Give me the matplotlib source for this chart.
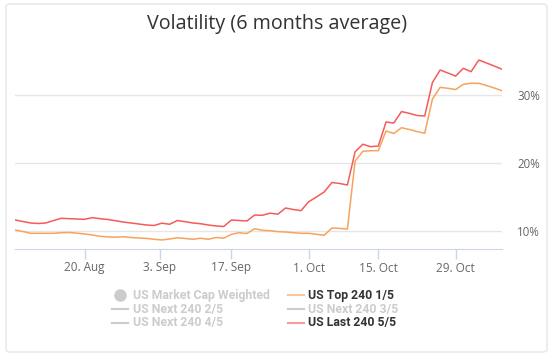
import matplotlib
matplotlib.use('Agg')
import matplotlib.pyplot as plt
from matplotlib.lines import Line2D
from matplotlib.patches import FancyBboxPatch
import numpy as np
import pandas as pd

plt.rcParams['font.family'] = ['Open Sans', 'DejaVu Sans']

# trading days shown on the chart (Labor Day and Columbus Day missing)
dates = pd.bdate_range('2018-08-07', '2018-11-06')
dates = dates[~dates.isin(pd.to_datetime(['2018-09-03', '2018-10-08']))]

# US Top 240 1/5, in %
top_240 = [10.15, 9.93, 9.66, 9.66, 9.66, 9.66, 9.75, 9.78, 9.68, 9.56,
           9.41, 9.22, 9.12, 9.09, 9.15, 9.04, 8.97, 8.91, 8.78, 8.68,
           8.82, 9.00, 8.90, 8.78, 8.93, 8.78, 9.04, 8.94, 9.51, 9.75,
           9.63, 10.34, 10.10, 10.04, 9.90, 9.85, 9.75, 9.66, 9.66, 9.51,
           9.37, 10.44, 10.37, 10.29, 20.29, 21.72, 21.81, 21.81, 24.71, 24.34,
           25.19, 24.93, 24.63, 24.37, 29.41, 31.13, 30.99, 30.81, 31.57, 31.74,
           31.72, 31.40, 31.03, 30.63]

# US Last 240 5/5, in %
last_240 = [11.62, 11.40, 11.18, 11.10, 11.18, 11.54, 11.87, 11.81, 11.76, 11.72,
            11.96, 11.81, 11.69, 11.51, 11.32, 11.18, 11.03, 10.88, 10.81, 11.15,
            10.99, 11.54, 11.37, 11.18, 11.07, 10.88, 10.74, 10.66, 11.62, 11.54,
            11.47, 12.35, 12.31, 12.62, 12.47, 13.38, 13.16, 12.99, 14.31, 15.00,
            15.74, 17.13, 16.99, 16.76, 21.66, 22.76, 22.40, 22.50, 26.03, 25.88,
            27.57, 27.31, 26.99, 26.91, 31.84, 33.68, 33.24, 32.79, 33.93, 33.43,
            35.15, 34.71, 34.26, 33.79]

tick_dates = pd.to_datetime(['2018-08-20', '2018-09-03', '2018-09-17',
                             '2018-10-01', '2018-10-15', '2018-10-29'])
tick_labels = ['20. Aug', '3. Sep', '17. Sep', '1. Oct', '15. Oct', '29. Oct']
y_ticks = [10, 20, 30]

# legend, row by row (only Top 240 1/5 and Last 240 5/5 are switched on)
legend_names = ['US Market Cap Weighted', 'US Top 240 1/5',
                'US Next 240 2/5', 'US Next 240 3/5',
                'US Next 240 4/5', 'US Last 240 5/5']

orange = '#f7a35c'
red = '#f45b5b'
hidden = '#cccccc'
legend_colors = [hidden, orange, hidden, hidden, hidden, red]

# ordinal x axis: one step per trading day
x = np.arange(len(dates))
day_num = dates.values.astype('datetime64[D]').astype(float)
tick_pos = np.interp(tick_dates.values.astype('datetime64[D]').astype(float), day_num, x)

fig = plt.figure(figsize=(5.57, 3.56), dpi=100)
W, H = 557, 356

frame = FancyBboxPatch((6 / W, 4 / H), 541 / W, 348 / H,
                       boxstyle='round,pad=0,rounding_size=0.008',
                       transform=fig.transFigure, facecolor='white',
                       edgecolor='#e6e6e6', linewidth=1, zorder=-10)
fig.patches.append(frame)

ax = fig.add_axes([15 / W, 107 / H, 487 / W, 207 / H])
ax.set_facecolor('none')

ax.plot(x, top_240, color=orange, lw=1.1)
ax.plot(x, last_240, color=red, lw=1.1)

ax.set_xlim(x[0], x[-1])
ax.set_ylim(7.35, 37.8)

ax.set_yticks(y_ticks)
ax.set_yticklabels([f'{v}%' for v in y_ticks])
ax.yaxis.tick_right()
ax.tick_params(axis='y', length=0, pad=11, labelsize=8.3, labelcolor='#666666')
ax.grid(axis='y', color='#e6e6e6', lw=1)

ax.set_xticks(tick_pos)
ax.set_xticklabels(tick_labels)
ax.tick_params(axis='x', length=7, width=1, color='#ccd6eb', pad=2,
               labelsize=8.5, labelcolor='#666666')

for s in ['top', 'left', 'right']:
    ax.spines[s].set_visible(False)
ax.spines['bottom'].set_color('#ccd6eb')
ax.set_axisbelow(True)

fig.text(277 / W, 1 - 24 / H, 'Volatility (6 months average)', ha='center',
         va='center', fontsize=14.2, color='#333333')

# legend drawn item by item, two per row
col_x = [112, 287.5]
row_y = [295, 309, 322.7]
for i, (name, col) in enumerate(zip(legend_names, legend_colors)):
    x0 = col_x[i % 2]
    y0 = 1 - row_y[i // 2] / H
    if i == 0:
        fig.add_artist(Line2D([(x0 + 7.5) / W], [y0], marker='o', markersize=8,
                              color=col, linestyle='none'))
    else:
        fig.add_artist(Line2D([x0 / W, (x0 + 16) / W], [y0, y0], color=col,
                              lw=1.5, alpha=0.6 if col != hidden else 1))
    fig.text((x0 + 21) / W, y0, name, ha='left', va='center',
             family=['Roboto', 'DejaVu Sans'], fontweight='bold', fontsize=8.8,
             color=hidden if col == hidden else '#333333')

fig.savefig('out.png', dpi=100)
